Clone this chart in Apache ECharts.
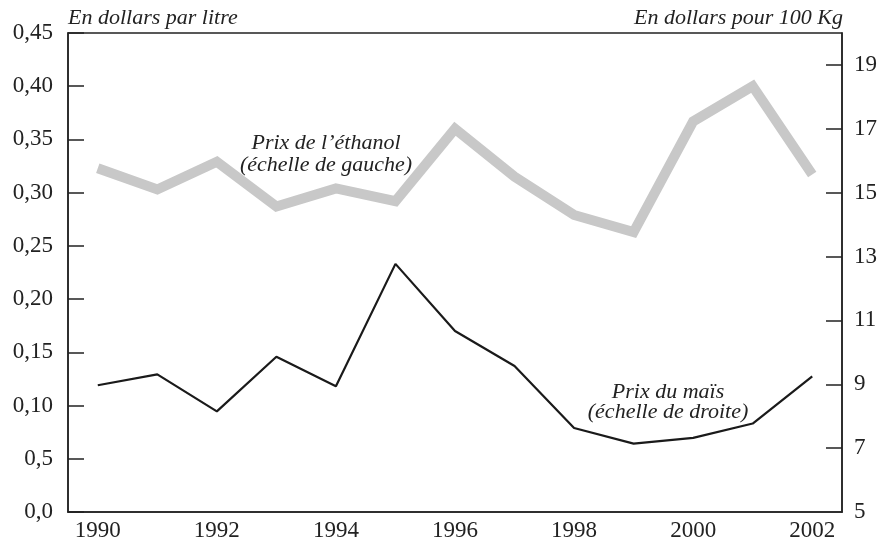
<!DOCTYPE html>
<html>
<head>
<meta charset="utf-8">
<script src="https://cdn.jsdelivr.net/npm/echarts@6/dist/echarts.min.js"></script>
<style>
  html, body { margin: 0; padding: 0; background: #fff; }
  #main { width: 880px; height: 546px; }
</style>
</head>
<body>
<div id="main"></div>
<script>
// années
const years = ["1990", "1991", "1992", "1993", "1994", "1995", "1996", "1997", "1998", "1999", "2000", "2001", "2002"];
// prix de l'éthanol, dollars par litre (échelle de gauche)
const ethanol = [0.323, 0.303, 0.329, 0.287, 0.304, 0.292, 0.360, 0.315, 0.279, 0.263, 0.367, 0.400, 0.317];
// prix du maïs, dollars pour 100 kg (échelle de droite)
const mais = [8.97, 9.31, 8.15, 9.86, 8.94, 12.77, 10.67, 9.57, 7.63, 7.14, 7.32, 7.77, 9.25];
// libellés de l'axe de gauche (tels quels dans l'original)
const leftLabels = ["0,0", "0,5", "0,10", "0,15", "0,20", "0,25", "0,30", "0,35", "0,40", "0,45"];
// graduations de droite
const rightLabels = [5, 7, 9, 11, 13, 15, 17, 19];

const serif = "'Liberation Serif', 'Times New Roman', serif";
const ink = "#222";

const myChart = echarts.init(document.getElementById("main"));

const option = {
  animation: false,
  backgroundColor: "#fff",
  grid: {
    left: 68, right: 37, top: 33, bottom: 34,
    show: true, borderColor: ink, borderWidth: 1.5,
    backgroundColor: "transparent"
  },
  xAxis: {
    type: "category",
    data: years,
    boundaryGap: true,
    axisLine: { lineStyle: { color: ink, width: 1.5 } },
    axisTick: { inside: true, length: 12, interval: 0, lineStyle: { color: ink, width: 1.5 } },
    axisLabel: { interval: 1, color: ink, fontFamily: serif, fontSize: 23, margin: 7 },
    splitLine: { show: false }
  },
  yAxis: [
    {
      type: "value",
      position: "left",
      min: 0, max: 0.45, interval: 0.05,
      axisLine: { show: true, lineStyle: { color: ink, width: 1.5 } },
      axisTick: { show: true, inside: true, length: 16, lineStyle: { color: ink, width: 1.5 } },
      axisLabel: {
        color: ink, fontFamily: serif, fontSize: 23, margin: 15,
        formatter: function (v) { return leftLabels[Math.round(v * 20)]; }
      },
      splitLine: { show: false }
    },
    {
      type: "value",
      position: "right",
      min: 5, max: 20,
      axisLine: { show: true, lineStyle: { color: ink, width: 1.5 } },
      axisTick: { show: true, inside: true, length: 16, customValues: rightLabels.slice(1), lineStyle: { color: ink, width: 1.5 } },
      axisLabel: { color: ink, fontFamily: serif, fontSize: 23, margin: 12, customValues: rightLabels },
      splitLine: { show: false }
    }
  ],
  series: [
    {
      name: "Prix de l’éthanol",
      type: "line",
      yAxisIndex: 0,
      data: ethanol,
      symbol: "none",
      z: 2,
      lineStyle: { color: "#c8c8c8", width: 10, join: "miter" }
    },
    {
      name: "Prix du maïs",
      type: "line",
      yAxisIndex: 1,
      data: mais,
      symbol: "none",
      z: 3,
      lineStyle: { color: "#1a1a1a", width: 2.2 }
    }
  ],
  graphic: [
    {
      type: "text", x: 68, y: 18,
      style: { text: "En dollars par litre", font: "italic 22px " + serif, fill: ink, align: "left", verticalAlign: "middle" }
    },
    {
      type: "text", x: 843, y: 18,
      style: { text: "En dollars pour 100 Kg", font: "italic 22px " + serif, fill: ink, align: "right", verticalAlign: "middle" }
    },
    {
      type: "text", x: 326, y: 154,
      style: { text: "Prix de l’éthanol\n(échelle de gauche)", font: "italic 22px " + serif, fill: ink, align: "center", verticalAlign: "middle", lineHeight: 22 }
    },
    {
      type: "text", x: 668, y: 402,
      style: { text: "Prix du maïs\n(échelle de droite)", font: "italic 22px " + serif, fill: ink, align: "center", verticalAlign: "middle", lineHeight: 20 }
    }
  ]
};

myChart.setOption(option);
</script>
</body>
</html>
